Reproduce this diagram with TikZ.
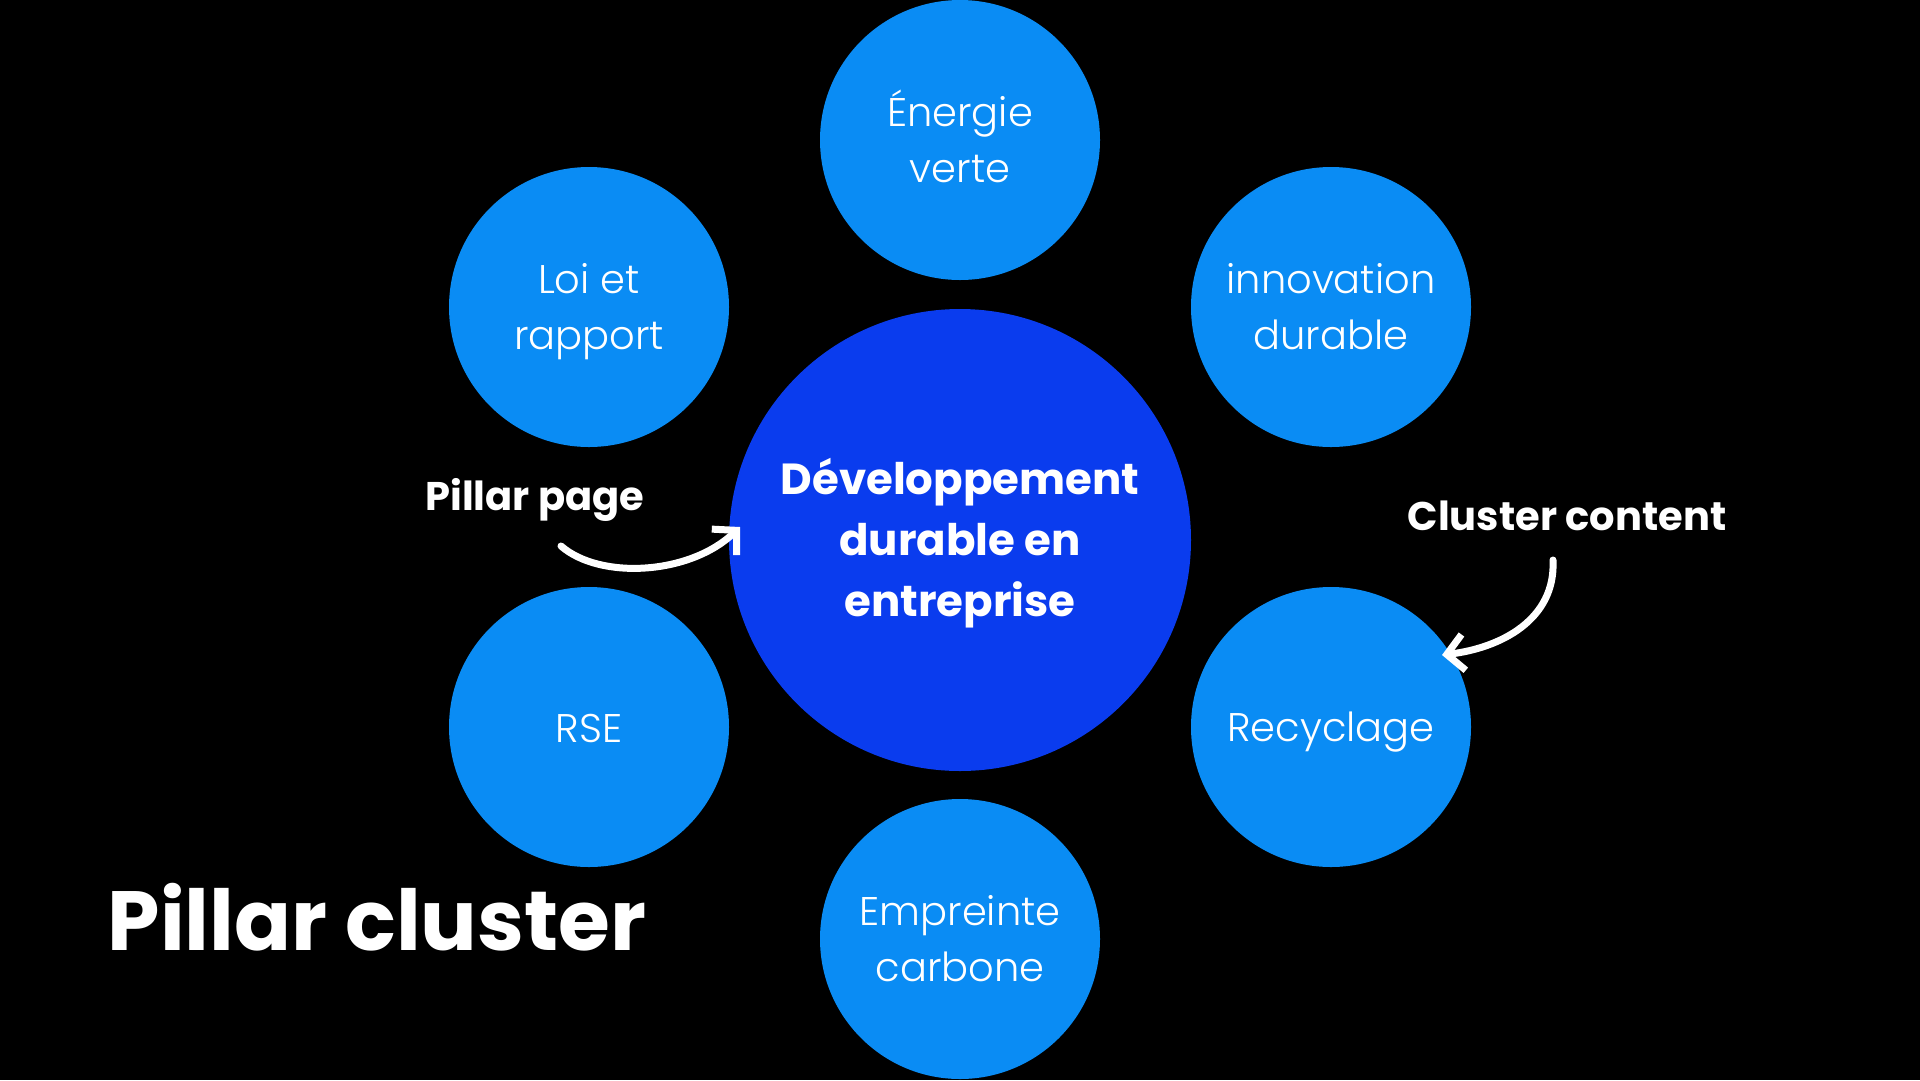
\documentclass[tikz,border=0pt]{standalone}
\usepackage{fontspec}
\setmainfont{Poppins}
\newfontfamily\plight{Poppins}[UprightFont=* Light]
\newfontfamily\pbold{Poppins}[UprightFont=* Bold]
\usetikzlibrary{arrows.meta}
\definecolor{smallblue}{HTML}{0A8CF4}
\definecolor{bigblue}{HTML}{0A3CEE}
\begin{document}
\begin{tikzpicture}[x=1pt,y=-1pt,
  smallc/.style={circle,fill=smallblue,minimum size=280pt,inner sep=0pt,text=white,align=center,
    font=\plight\fontsize{40}{56}\selectfont},
  bigc/.style={circle,fill=bigblue,minimum size=462pt,inner sep=0pt,text=white,align=center,
    font=\pbold\fontsize{43.5}{61}\selectfont},
  lbl/.style={text=white,font=\pbold\fontsize{40}{46}\selectfont,inner sep=0pt},
  curvy/.style={draw=white,line width=7pt,line cap=round,line join=round,
    -{Straight Barb[length=17pt,width=36pt,line width=7pt]}}]
\fill[black] (0,0) rectangle (1920,1080);
\useasboundingbox (0,0) rectangle (1920,1080);
\node[bigc] (center) at (960,540) {};
\node[text=white,align=center,font=\pbold\fontsize{43.5}{61}\selectfont,inner sep=0pt] (ctext) at (960,543) {Développement\\durable en\\entreprise};
\node[smallc] (top) at (960,140) {};
\node[smallc] (tl) at (589,307) {};
\node[smallc] (tr) at (1331,307) {};
\node[smallc] (bl) at (589,727) {};
\node[smallc] (br) at (1331,727) {};
\node[smallc] (bot) at (960,939) {};
\begin{scope}[every node/.style={text=white,align=center,inner sep=0pt,font=\plight\fontsize{40}{56}\selectfont}]
\node (ttop) at (960,136) {Énergie\\verte};
\node (ttl) at (589,312) {Loi et\\rapport};
\node (ttr) at (1331,307) {innovation\\durable};
\node (tbl) at (589,728) {RSE};
\node (tbr) at (1331,732) {Recyclage};
\node (tbot) at (960,939) {Empreinte\\carbone};
\end{scope}
\node[lbl] (pp) at (535,500) {Pillar page};
\node[lbl] (cc) at (1567,516) {Cluster content};
\node[text=white,font=\pbold\fontsize{84}{100}\selectfont,inner sep=0pt] (title) at (377,917) {Pillar cluster};
\coordinate (ppstart) at (561,546);
\coordinate (pptip) at (740,527);
\coordinate (ccstart) at (1553,560);
\coordinate (cctip) at (1442,655);
\draw[curvy] (ppstart) .. controls (600,580) and (690,575) .. (pptip);
\draw[curvy] (ccstart) .. controls (1556,620) and (1500,648) .. (cctip);
\end{tikzpicture}
\end{document}
